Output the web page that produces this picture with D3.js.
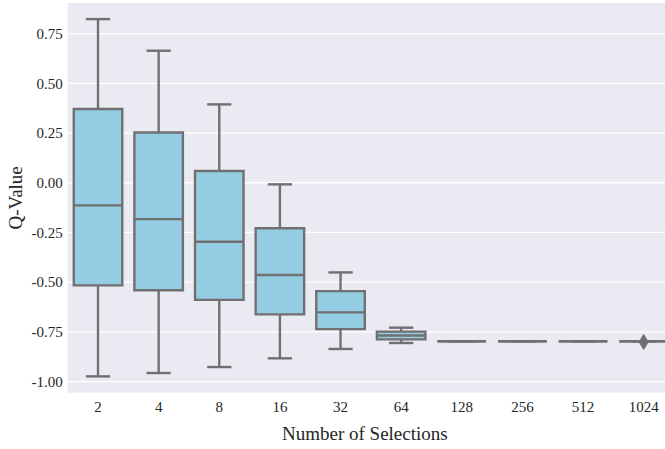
<!DOCTYPE html>
<html>
<head>
<meta charset="utf-8">
<script src="https://cdn.jsdelivr.net/npm/d3@7"></script>
<style>
  body { margin: 0; background: #ffffff; }
  svg { display: block; font-family: "Liberation Serif", "DejaVu Serif", serif; }
</style>
</head>
<body>
<div id="chart"></div>
<script>
"use strict";

// data
const categories = ["2", "4", "8", "16", "32", "64", "128", "256", "512", "1024"];
const whiskerHigh = [0.823, 0.664, 0.394, -0.008, -0.451, -0.729, -0.797, -0.797, -0.797, -0.797];
const q3Values    = [0.371, 0.253, 0.059, -0.229, -0.545, -0.749, -0.797, -0.797, -0.797, -0.797];
const medians     = [-0.114, -0.183, -0.297, -0.464, -0.652, -0.768, -0.797, -0.797, -0.797, -0.797];
const q1Values    = [-0.516, -0.541, -0.589, -0.662, -0.736, -0.788, -0.797, -0.797, -0.797, -0.797];
const whiskerLow  = [-0.974, -0.957, -0.927, -0.883, -0.836, -0.806, -0.797, -0.797, -0.797, -0.797];
const outliers = [{ cat: "1024", value: -0.801 }];
const yTicks = [-1.0, -0.75, -0.5, -0.25, 0.0, 0.25, 0.5, 0.75];

const svgWidth = 665;
const svgHeight = 449;
const plotLeft = 67.7;
const plotRight = 674;
const plotTop = 3;
const plotBottom = 392.7;

const boxFill = "#93cce3";
const lineGray = "#707070";
const lw = 2.4;

const svg = d3.select("#chart")
  .append("svg")
  .attr("width", svgWidth)
  .attr("height", svgHeight);

const xScale = d3.scaleBand()
  .domain(categories)
  .range([plotLeft, plotRight])
  .padding(0);

const yScale = d3.scaleLinear()
  .domain([-1.056, 0.904])
  .range([plotBottom, plotTop]);

// background
svg.append("rect")
  .attr("x", plotLeft)
  .attr("y", plotTop)
  .attr("width", plotRight - plotLeft)
  .attr("height", plotBottom - plotTop)
  .attr("fill", "#eaeaf2");

// y grid + axis
const yAxis = d3.axisLeft(yScale)
  .tickValues(yTicks)
  .tickSize(0)
  .tickPadding(5)
  .tickFormat(d => d3.format(".2f")(d).replace("\u2212", "-"));

const yAxisG = svg.append("g")
  .attr("transform", `translate(${plotLeft}, 0)`)
  .call(yAxis);
yAxisG.select(".domain").remove();
yAxisG.selectAll("text")
  .attr("font-size", 15)
  .attr("font-family", "Liberation Serif, serif")
  .attr("fill", "#262626");

svg.append("g")
  .selectAll("line")
  .data(yTicks)
  .enter()
  .append("line")
  .attr("x1", plotLeft)
  .attr("x2", plotRight)
  .attr("y1", d => yScale(d))
  .attr("y2", d => yScale(d))
  .attr("stroke", "#ffffff")
  .attr("stroke-width", 1.3);

// x axis
const xAxis = d3.axisBottom(xScale).tickSize(0).tickPadding(9);
const xAxisG = svg.append("g")
  .attr("transform", `translate(0, ${plotBottom})`)
  .call(xAxis);
xAxisG.select(".domain").remove();
xAxisG.selectAll("text")
  .attr("font-size", 15)
  .attr("font-family", "Liberation Serif, serif")
  .attr("fill", "#262626");

// boxes
const boxes = categories.map((c, i) => ({
  cat: c,
  hi: whiskerHigh[i],
  q3: q3Values[i],
  med: medians[i],
  q1: q1Values[i],
  lo: whiskerLow[i]
}));

const boxWidth = xScale.bandwidth() * 0.8;
const capWidth = boxWidth / 2;
const cx = d => xScale(d.cat) + xScale.bandwidth() / 2;

const g = svg.append("g");
const boxG = g.selectAll("g.box")
  .data(boxes)
  .enter()
  .append("g")
  .attr("class", "box");

// whiskers
boxG.append("line")
  .attr("x1", cx).attr("x2", cx)
  .attr("y1", d => yScale(d.q3)).attr("y2", d => yScale(d.hi))
  .attr("stroke", lineGray).attr("stroke-width", lw);
boxG.append("line")
  .attr("x1", cx).attr("x2", cx)
  .attr("y1", d => yScale(d.q1)).attr("y2", d => yScale(d.lo))
  .attr("stroke", lineGray).attr("stroke-width", lw);

// caps
boxG.append("line")
  .attr("x1", d => cx(d) - capWidth / 2).attr("x2", d => cx(d) + capWidth / 2)
  .attr("y1", d => yScale(d.hi)).attr("y2", d => yScale(d.hi))
  .attr("stroke", lineGray).attr("stroke-width", lw);
boxG.append("line")
  .attr("x1", d => cx(d) - capWidth / 2).attr("x2", d => cx(d) + capWidth / 2)
  .attr("y1", d => yScale(d.lo)).attr("y2", d => yScale(d.lo))
  .attr("stroke", lineGray).attr("stroke-width", lw);

// box body (as a path so zero-height boxes still show their edge)
boxG.append("path")
  .attr("d", d => {
    const x0 = cx(d) - boxWidth / 2;
    const x1 = cx(d) + boxWidth / 2;
    const y0 = yScale(d.q3);
    const y1 = yScale(d.q1);
    return `M${x0},${y0}L${x1},${y0}L${x1},${y1}L${x0},${y1}Z`;
  })
  .attr("fill", boxFill)
  .attr("stroke", lineGray)
  .attr("stroke-width", lw);

// median
boxG.append("line")
  .attr("x1", d => cx(d) - boxWidth / 2).attr("x2", d => cx(d) + boxWidth / 2)
  .attr("y1", d => yScale(d.med)).attr("y2", d => yScale(d.med))
  .attr("stroke", lineGray).attr("stroke-width", lw);

// outliers (thin diamonds)
g.selectAll("path.flier")
  .data(outliers)
  .enter()
  .append("path")
  .attr("class", "flier")
  .attr("d", d => {
    const x = xScale(d.cat) + xScale.bandwidth() / 2;
    const y = yScale(d.value);
    return `M${x},${y - 7.5}L${x + 4.5},${y}L${x},${y + 7.5}L${x - 4.5},${y}Z`;
  })
  .attr("fill", lineGray)
  .attr("stroke", lineGray)
  .attr("stroke-width", 1);

// axis labels
svg.append("text")
  .attr("x", (plotLeft + plotRight) / 2 - 6)
  .attr("y", 440)
  .attr("text-anchor", "middle")
  .attr("font-size", 19)
  .attr("fill", "#262626")
  .text("Number of Selections");

svg.append("text")
  .attr("transform", `translate(22, ${(plotTop + plotBottom) / 2}) rotate(-90)`)
  .attr("text-anchor", "middle")
  .attr("font-size", 19)
  .attr("fill", "#262626")
  .text("Q-Value");
</script>
</body>
</html>
